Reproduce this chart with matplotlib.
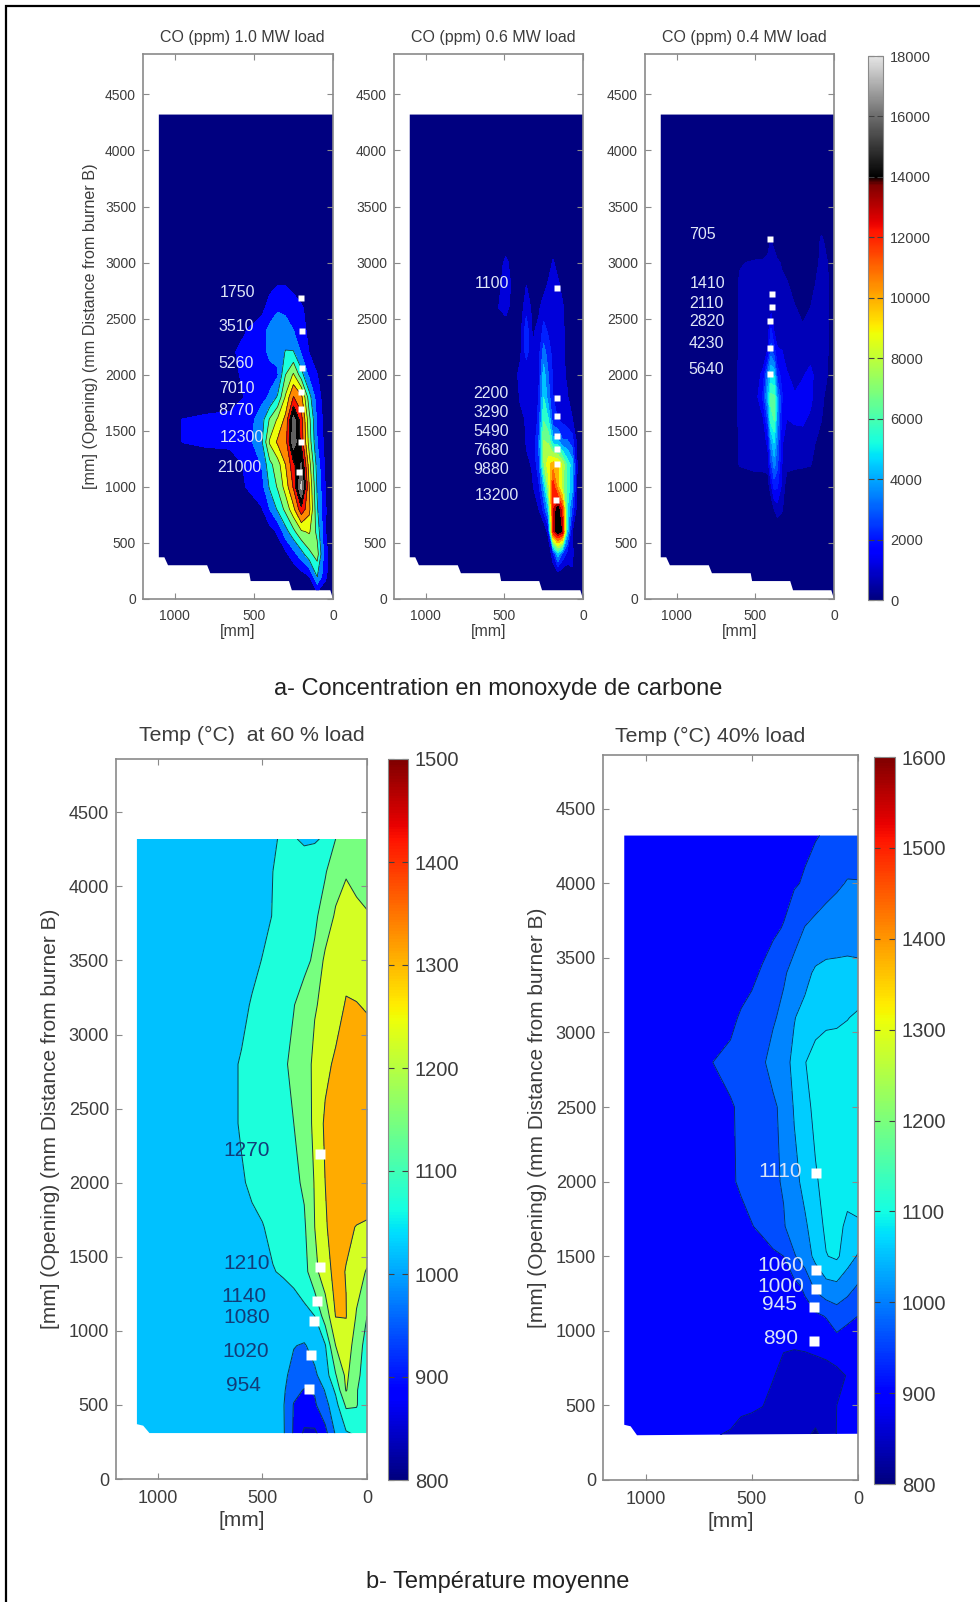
import numpy as np
import matplotlib
matplotlib.use("Agg")
import matplotlib.pyplot as plt
from matplotlib.colors import LinearSegmentedColormap, Normalize
from matplotlib.cm import ScalarMappable
from matplotlib.lines import Line2D
from matplotlib.patches import Polygon

plt.rcParams['font.family'] = ['Liberation Sans', 'DejaVu Sans']

# CO at 1.0 MW, rows go from the top of the opening down
co1_x = [1100, 950, 800, 650, 550, 450, 400, 350, 300, 250, 200, 150, 100, 50, 0]
co1_y = [4320, 3000, 2800, 2600, 2400, 2200, 2000, 1800, 1600, 1400, 1200, 1000, 800, 600, 400, 200, 0]
co1_z = [
    [0, 0, 0, 0, 0, 0, 0, 0, 0, 0, 0, 0, 0, 0, 0],
    [0, 0, 0, 0, 0, 0, 200, 500, 500, 200, 0, 0, 0, 0, 0],
    [0, 0, 0, 0, 0, 700, 1200, 1700, 1700, 1200, 400, 0, 0, 0, 0],
    [0, 0, 0, 0, 300, 1100, 2500, 3300, 3200, 2600, 2000, 1000, 0, 0, 0],
    [0, 0, 0, 900, 1700, 2800, 3900, 4300, 4000, 3500, 2500, 1200, 300, 0, 0],
    [0, 0, 0, 1500, 2200, 3000, 3800, 3900, 5400, 5400, 3300, 1700, 600, 0, 0],
    [0, 0, 0, 1400, 2000, 2500, 3000, 3300, 7000, 9000, 6000, 3000, 1800, 600, 0],
    [0, 0, 0, 800, 1900, 3000, 3700, 5500, 9000, 12400, 11000, 6000, 2500, 900, 0],
    [0, 1800, 2300, 2300, 2400, 4500, 7200, 9000, 11000, 16500, 13000, 7500, 3200, 1000, 0],
    [0, 1800, 2200, 2200, 2500, 5000, 9000, 10800, 11500, 17000, 13500, 8000, 3500, 1200, 0],
    [0, 0, 300, 800, 2000, 3600, 6500, 8000, 10500, 13500, 16000, 9500, 4500, 1500, 0],
    [0, 0, 0, 0, 1800, 2800, 5500, 7200, 9500, 12500, 18000, 10500, 5000, 1800, 0],
    [0, 0, 0, 0, 300, 1600, 3500, 5500, 7500, 10000, 13500, 11000, 5500, 2000, 0],
    [0, 0, 0, 0, 0, 400, 1000, 2000, 4500, 6500, 8500, 9000, 6500, 1900, 200],
    [0, 0, 0, 0, 0, 0, 0, 500, 1300, 2800, 4500, 6500, 7800, 2500, 200],
    [0, 0, 0, 0, 0, 0, 0, 0, 0, 0, 800, 1700, 5300, 2200, 200],
    [0, 0, 0, 0, 0, 0, 0, 0, 0, 0, 0, 0, 0, 0, 0],
]
co1_levels = [-1, 1750, 3510, 5260, 7010, 8770, 10500, 12300, 14000, 15800, 17500, 25000]
co1_pts_x = [200, 197, 197, 200, 200, 205, 213]
co1_pts_y = [2684, 2394, 2060, 1844, 1691, 1400, 1135]
co1_lab = ['1750', '3510', '5260', '7010', '8770', '12300', '21000']
co1_lab_x = [718, 725, 722, 722, 722, 718, 732]
co1_lab_y = [2730, 2430, 2100, 1880, 1685, 1436, 1177]

# CO at 0.6 MW
co2_x = [1100, 600, 530, 490, 450, 400, 360, 320, 280, 250, 220, 190, 160, 130, 100, 70, 40, 0]
co2_y = [4320, 3200, 3000, 2800, 2600, 2400, 2200, 2000, 1800, 1600, 1400, 1200, 1000, 800, 600, 400, 200, 0]
co2_z = [
    [0, 0, 0, 0, 0, 0, 0, 0, 0, 0, 0, 0, 0, 0, 0, 0, 0, 0],
    [0, 0, 0, 0, 0, 0, 0, 0, 0, 0, 0, 0, 0, 0, 0, 0, 0, 0],
    [0, 0, 500, 1500, 500, 0, 0, 0, 0, 0, 300, 1300, 300, 0, 0, 0, 0, 0],
    [0, 0, 900, 1800, 900, 0, 1100, 0, 0, 600, 1300, 1700, 1500, 500, 0, 0, 0, 0],
    [0, 0, 1200, 1600, 600, 300, 1800, 800, 900, 1700, 2000, 2000, 1800, 1300, 400, 0, 0, 0],
    [0, 0, 0, 300, 0, 600, 2800, 900, 1400, 2500, 2000, 1800, 1700, 1300, 700, 0, 0, 0],
    [0, 0, 0, 0, 0, 800, 2600, 1200, 1800, 3800, 2700, 1800, 1700, 1300, 800, 0, 0, 0],
    [0, 0, 0, 0, 200, 1500, 1400, 1100, 2000, 4900, 3300, 2000, 1800, 1400, 900, 200, 0, 0],
    [0, 0, 0, 0, 0, 1200, 1300, 1200, 2300, 5500, 3800, 2200, 1900, 1500, 1200, 600, 0, 0],
    [0, 0, 0, 0, 0, 800, 1200, 1200, 2500, 6500, 5500, 2600, 2200, 1900, 1500, 1200, 300, 0],
    [0, 0, 0, 0, 0, 0, 1200, 1200, 3500, 7800, 7500, 5000, 4800, 3500, 3500, 2800, 1000, 0],
    [0, 0, 0, 0, 0, 0, 900, 1200, 3000, 7500, 9500, 10500, 10000, 8500, 6200, 5000, 1200, 0],
    [0, 0, 0, 0, 0, 0, 0, 1000, 2000, 4500, 8000, 12800, 10500, 8000, 6200, 4800, 1100, 0],
    [0, 0, 0, 0, 0, 0, 0, 0, 1100, 2500, 5000, 13000, 14600, 12500, 5500, 3200, 800, 0],
    [0, 0, 0, 0, 0, 0, 0, 0, 0, 0, 1500, 13000, 14800, 13800, 5000, 1200, 0, 0],
    [0, 0, 0, 0, 0, 0, 0, 0, 0, 0, 0, 1800, 5000, 3000, 1800, 1500, 0, 0],
    [0, 0, 0, 0, 0, 0, 0, 0, 0, 0, 0, 0, 0, 0, 200, 800, 0, 0],
    [0, 0, 0, 0, 0, 0, 0, 0, 0, 0, 0, 0, 0, 0, 0, 0, 0, 0],
]
co2_levels = [-1, 1100, 2200, 3290, 4390, 5490, 6590, 7680, 8780, 9880, 11000, 12100, 13200, 14000, 15400, 16500]
co2_pts_x = [168, 168, 168, 168, 168, 168, 172]
co2_pts_y = [2775, 1790, 1628, 1450, 1340, 1203, 880]
co2_lab = ['1100', '2200', '3290', '5490', '7680', '9880', '13200']
co2_lab_x = [690, 695, 695, 695, 695, 695, 690]
co2_lab_y = [2816, 1830, 1666, 1491, 1322, 1158, 921]

# CO at 0.4 MW
co3_x = [1100, 640, 600, 500, 450, 420, 400, 380, 360, 330, 300, 250, 200, 150, 120, 80, 40, 0]
co3_y = [4320, 3400, 3200, 3000, 2800, 2600, 2400, 2200, 2000, 1800, 1600, 1400, 1200, 1000, 800, 600, 0]
co3_z = [
    [0, 0, 0, 0, 0, 0, 0, 0, 0, 0, 0, 0, 0, 0, 0, 0, 0, 0],
    [0, 0, 0, 0, 0, 0, 0, 0, 0, 0, 0, 0, 0, 0, 0, 0, 0, 0],
    [0, 0, 0, 0, 0, 400, 750, 500, 0, 0, 0, 0, 0, 0, 0, 900, 300, 0],
    [0, 0, 650, 800, 800, 900, 1000, 950, 850, 600, 400, 0, 0, 0, 300, 1000, 700, 0],
    [0, 300, 800, 900, 900, 1000, 1000, 1000, 1000, 900, 800, 400, 300, 300, 700, 1000, 800, 0],
    [0, 300, 800, 900, 900, 950, 1100, 1000, 950, 900, 850, 750, 500, 700, 900, 1000, 800, 0],
    [0, 300, 800, 900, 900, 1000, 2200, 1300, 1100, 1000, 1000, 900, 800, 900, 950, 950, 800, 0],
    [0, 300, 800, 900, 950, 1500, 3200, 2500, 1500, 1450, 1000, 950, 900, 1000, 1000, 900, 750, 0],
    [0, 300, 900, 1000, 1600, 3800, 5000, 4800, 2500, 1800, 1500, 1100, 1300, 1700, 1200, 900, 700, 0],
    [0, 300, 900, 1000, 2300, 4500, 6600, 6500, 4000, 2200, 1500, 1500, 1800, 1700, 1100, 850, 500, 0],
    [0, 300, 850, 950, 1300, 3000, 6000, 6400, 4000, 1800, 1400, 1500, 1600, 1200, 950, 720, 300, 0],
    [0, 300, 800, 900, 1000, 1600, 4000, 5000, 3500, 1500, 1000, 1100, 950, 850, 720, 500, 0, 0],
    [0, 200, 750, 900, 900, 1000, 2700, 3800, 3000, 1400, 900, 850, 800, 750, 500, 0, 0, 0],
    [0, 0, 200, 300, 300, 300, 1200, 2300, 2200, 1200, 300, 200, 200, 100, 0, 0, 0, 0],
    [0, 0, 0, 0, 0, 0, 0, 700, 1100, 800, 0, 0, 0, 0, 0, 0, 0, 0],
    [0, 0, 0, 0, 0, 0, 0, 0, 0, 0, 0, 0, 0, 0, 0, 0, 0, 0],
    [0, 0, 0, 0, 0, 0, 0, 0, 0, 0, 0, 0, 0, 0, 0, 0, 0, 0],
]
co3_levels = [-1, 705, 1410, 2110, 2820, 3530, 4230, 4940, 5640, 6350, 7050]
co3_pts_x = [404, 393, 393, 404, 404, 404]
co3_pts_y = [3207, 2720, 2600, 2475, 2242, 2009]
co3_lab = ['705', '1410', '2110', '2820', '4230', '5640']
co3_lab_x = [922, 915, 918, 922, 922, 922]
co3_lab_y = [3249, 2816, 2637, 2475, 2280, 2048]

# lower edge of the measured area, same for the three CO panels
co_edge_x = [1100, 1100, 1065, 1042, 795, 775, 529, 520, 278, 260, 17, 0, 0]
co_edge_y = [4320, 372, 372, 301, 301, 230, 230, 160, 160, 78, 78, 0, 4320]

# temperature at 60 % load
t60_x = [1100, 650, 600, 550, 500, 450, 400, 350, 300, 250, 200, 150, 100, 50, 0]
t60_y = [4320, 4100, 3800, 3500, 3200, 2800, 2400, 2000, 1700, 1400, 1100, 900, 700, 600, 500, 300]
t60_z = [
    [1060, 1060, 1060, 1060, 1060, 1076, 1085, 1082, 1076, 1076, 1085, 1140, 1165, 1170, 1170],
    [1060, 1060, 1060, 1060, 1065, 1080, 1090, 1095, 1095, 1105, 1135, 1175, 1205, 1190, 1180],
    [1055, 1055, 1055, 1060, 1065, 1082, 1095, 1105, 1115, 1130, 1165, 1220, 1235, 1225, 1215],
    [1050, 1052, 1055, 1065, 1082, 1095, 1105, 1115, 1125, 1150, 1225, 1245, 1250, 1245, 1240],
    [1055, 1058, 1065, 1085, 1095, 1105, 1115, 1138, 1165, 1205, 1225, 1245, 1275, 1272, 1265],
    [1055, 1070, 1085, 1095, 1105, 1115, 1130, 1155, 1180, 1225, 1255, 1280, 1295, 1300, 1300],
    [1060, 1070, 1085, 1095, 1105, 1112, 1125, 1140, 1175, 1225, 1280, 1300, 1305, 1310, 1310],
    [1060, 1065, 1075, 1088, 1095, 1105, 1115, 1125, 1150, 1215, 1270, 1300, 1310, 1310, 1310],
    [1050, 1055, 1060, 1070, 1078, 1090, 1100, 1112, 1130, 1210, 1265, 1290, 1280, 1268, 1262],
    [1040, 1042, 1045, 1050, 1060, 1078, 1085, 1095, 1115, 1190, 1250, 1285, 1268, 1235, 1205],
    [1040, 1040, 1040, 1040, 1040, 1045, 1050, 1055, 1065, 1080, 1170, 1272, 1272, 1205, 1140],
    [1040, 1040, 1040, 1040, 1040, 1040, 1035, 1022, 1015, 1040, 1075, 1210, 1245, 1180, 1110],
    [1040, 1040, 1040, 1040, 1040, 1040, 1030, 1005, 990, 1010, 1050, 1135, 1225, 1160, 1100],
    [1040, 1040, 1040, 1040, 1040, 1040, 1030, 975, 950, 960, 1025, 1090, 1215, 1145, 1095],
    [1040, 1040, 1040, 1040, 1040, 1035, 1025, 950, 940, 945, 1000, 1060, 1150, 1145, 1085],
    [1040, 1040, 1040, 1040, 1040, 1035, 1028, 945, 875, 875, 930, 1025, 1070, 1085, 1085],
]
t60_levels = [830, 890, 954, 1020, 1080, 1140, 1210, 1270, 1400]
t60_band = [850, 885, 955, 1020, 1070, 1145, 1225, 1310]
t60_pts_x = [224, 227, 237, 251, 269, 278]
t60_pts_y = [2197, 1428, 1203, 1066, 834, 610]
t60_lab = ['1270', '1210', '1140', '1080', '1020', '954']
t60_lab_x = [688, 688, 695, 688, 690, 672]
t60_lab_y = [2214, 1455, 1231, 1093, 862, 628]
t60_edge_x = [1100, 1100, 1070, 1040, 0, 0]
t60_edge_y = [4320, 370, 360, 310, 310, 4320]

# temperature at 40 % load
t40_x = [1100, 700, 600, 550, 500, 450, 400, 350, 300, 250, 200, 150, 100, 50, 0]
t40_y = [4320, 4000, 3700, 3400, 3100, 2800, 2500, 2000, 1700, 1500, 1300, 1100, 900, 700, 500, 300]
t40_z = [
    [910, 910, 912, 914, 915, 916, 918, 920, 930, 935, 942, 950, 960, 970, 975],
    [910, 912, 914, 915, 916, 918, 920, 925, 940, 950, 965, 980, 992, 1003, 1002],
    [910, 912, 915, 918, 920, 925, 935, 948, 975, 1002, 1015, 1025, 1030, 1035, 1040],
    [910, 915, 920, 925, 935, 950, 970, 992, 1020, 1045, 1068, 1075, 1075, 1075, 1070],
    [915, 925, 935, 950, 960, 975, 993, 1015, 1058, 1075, 1090, 1100, 1102, 1108, 1118],
    [915, 943, 955, 965, 980, 992, 1020, 1045, 1070, 1108, 1130, 1135, 1135, 1140, 1140],
    [915, 925, 942, 950, 960, 975, 990, 1015, 1065, 1095, 1122, 1135, 1140, 1140, 1140],
    [915, 925, 935, 955, 965, 975, 990, 1005, 1045, 1075, 1105, 1125, 1130, 1130, 1130],
    [910, 915, 920, 925, 943, 955, 975, 995, 1030, 1052, 1085, 1120, 1125, 1100, 1105],
    [910, 910, 915, 915, 920, 925, 935, 945, 995, 1030, 1075, 1108, 1118, 1085, 1055],
    [905, 905, 908, 908, 910, 912, 915, 920, 930, 955, 1015, 1045, 1050, 1025, 995],
    [900, 900, 902, 902, 905, 908, 910, 912, 918, 925, 935, 948, 970, 955, 945],
    [900, 900, 900, 900, 900, 900, 896, 893, 893, 895, 900, 908, 925, 920, 915],
    [900, 900, 900, 900, 898, 895, 892, 880, 870, 870, 870, 870, 875, 893, 900],
    [898, 898, 898, 896, 895, 891, 880, 870, 865, 865, 865, 870, 890, 895, 898],
    [895, 892, 888, 880, 875, 870, 868, 865, 860, 845, 825, 855, 892, 895, 895],
]
t40_levels = [800, 835, 890, 945, 1000, 1060, 1110, 1170]
t40_band = [810, 850, 900, 960, 1005, 1060, 1085]
t40_pts_x = [199, 199, 199, 208, 208]
t40_pts_y = [2057, 1411, 1281, 1162, 933]
t40_lab = ['1110', '1060', '1000', '945', '890']
t40_lab_x = [469, 472, 472, 453, 447]
t40_lab_y = [2067, 1435, 1298, 1179, 950]
t40_edge_x = [1100, 1100, 1070, 1040, 600, 0, 0]
t40_edge_y = [4320, 370, 360, 300, 305, 310, 4320]

y_ticks = [0, 500, 1000, 1500, 2000, 2500, 3000, 3500, 4000, 4500]
x_ticks = [1000, 500, 0]
co_bar_ticks = [0, 2000, 4000, 6000, 8000, 10000, 12000, 14000, 16000, 18000]
t60_bar_ticks = [800, 900, 1000, 1100, 1200, 1300, 1400, 1500]
t40_bar_ticks = [800, 900, 1000, 1100, 1200, 1300, 1400, 1500, 1600]

W, H = 980, 1602
GREY = '#8a8a8a'
TXT = '#3c3c3c'

jet = plt.get_cmap('jet')
co_stops = [(i / 100 * 13750 / 18000, jet(i / 100)) for i in range(101)]
co_stops += [(14000 / 18000, (0, 0, 0, 1)), (16000 / 18000, (0.42, 0.42, 0.42, 1)), (1, (0.9, 0.9, 0.9, 1))]
co_cmap = LinearSegmentedColormap.from_list('co_jet', co_stops, N=512)


def add_ax(fig, left, right, top, bottom):
    return fig.add_axes([left / W, 1 - bottom / H, (right - left) / W, (bottom - top) / H])


def draw_panel(fig, box, x, y, z, levels, band, cmap, norm, edge_x, edge_y, fs, pad):
    ax = add_ax(fig, *box)
    colors = [cmap(norm(v)) for v in band]
    cs = ax.contourf(x, y, np.array(z, dtype=float), levels=levels, colors=colors)
    clip = Polygon(np.column_stack([edge_x, edge_y]), transform=ax.transData, fc='none', ec='none')
    ax.add_patch(clip)
    cs.set_clip_path(clip)
    ax.set_xlim(1200, 0)
    ax.set_ylim(0, 4860)
    ax.set_xticks(x_ticks)
    ax.set_yticks(y_ticks)
    ax.tick_params(direction='in', top=True, right=True, length=4, width=0.8,
                   color=GREY, labelsize=fs, labelcolor=TXT)
    ax.tick_params(axis='x', pad=pad)
    ax.tick_params(axis='y', pad=5)
    for s in ax.spines.values():
        s.set_color(GREY)
        s.set_linewidth(1.2)
    ax.set_facecolor('white')
    return ax, cs, clip


def add_points(ax, px, py, lab, lx, ly, col, fs, ms):
    ax.plot(px, py, 's', color='white', ms=ms, mec='none', clip_on=False, zorder=5)
    for t, a, b in zip(lab, lx, ly):
        ax.text(a, b, t, color=col, fontsize=fs, ha='left', va='center', zorder=6)


def add_bar(fig, box, cmap, norm, ticks, fs):
    cax = add_ax(fig, *box)
    cb = fig.colorbar(ScalarMappable(norm=norm, cmap=cmap), cax=cax)
    cb.set_ticks(ticks)
    cb.set_ticklabels([str(t) for t in ticks])
    cax.tick_params(direction='in', left=True, right=True, length=4, width=0.8,
                    color='#404040', labelsize=fs, labelcolor=TXT, pad=5)
    cb.outline.set_edgecolor(GREY)
    cb.outline.set_linewidth(0.8)


def main():
    fig = plt.figure(figsize=(W / 100, H / 100), dpi=100, facecolor='white')
    # only the left and top rules of the frame are there
    fig.add_artist(Line2D([6 / W, 6 / W, 1], [0, 1 - 6 / H, 1 - 6 / H], color='black', lw=1.6,
                          transform=fig.transFigure, solid_joinstyle='miter'))

    co_norm = Normalize(0, 18000)
    label_co = '#dfe6f7'

    # top row
    ax, cs, clip = draw_panel(fig, (143, 333, 54, 599), co1_x, co1_y[::-1], co1_z[::-1], co1_levels,
                              [0] + co1_levels[1:-1], co_cmap, co_norm, co_edge_x, co_edge_y, 10, 7)
    lines = ax.contour(co1_x, co1_y[::-1], np.array(co1_z[::-1], dtype=float), levels=co1_levels[3:9],
                       colors='#1a1a1a', linewidths=0.5)
    lines.set_clip_path(clip)
    add_points(ax, co1_pts_x, co1_pts_y, co1_lab, co1_lab_x, co1_lab_y, label_co, 11.5, 5)
    ax.text(0.525, 1.016, 'CO (ppm) 1.0 MW load', transform=ax.transAxes, ha='center', va='bottom',
            fontsize=11.5, color=TXT)
    ax.set_xlabel('[mm]', fontsize=11.5, color=TXT, labelpad=1)
    ax.set_ylabel('[mm] (Opening) (mm Distance from burner B)', fontsize=11.6, color=TXT, labelpad=5)

    ax, cs, clip = draw_panel(fig, (394, 583, 54, 599), co2_x, co2_y[::-1], co2_z[::-1], co2_levels,
                              [0] + co2_levels[1:-1], co_cmap, co_norm, co_edge_x, co_edge_y, 10, 7)
    add_points(ax, co2_pts_x, co2_pts_y, co2_lab, co2_lab_x, co2_lab_y, label_co, 11.5, 5)
    ax.text(0.525, 1.016, 'CO (ppm) 0.6 MW load', transform=ax.transAxes, ha='center', va='bottom',
            fontsize=11.5, color=TXT)
    ax.set_xlabel('[mm]', fontsize=11.5, color=TXT, labelpad=1)

    ax, cs, clip = draw_panel(fig, (645, 834, 54, 599), co3_x, co3_y[::-1], co3_z[::-1], co3_levels,
                              [0] + co3_levels[1:-1], co_cmap, co_norm, co_edge_x, co_edge_y, 10, 7)
    add_points(ax, co3_pts_x, co3_pts_y, co3_lab, co3_lab_x, co3_lab_y, label_co, 11.5, 5)
    ax.text(0.525, 1.016, 'CO (ppm) 0.4 MW load', transform=ax.transAxes, ha='center', va='bottom',
            fontsize=11.5, color=TXT)
    ax.set_xlabel('[mm]', fontsize=11.5, color=TXT, labelpad=1)

    add_bar(fig, (868, 883, 56, 600), co_cmap, co_norm, co_bar_ticks, 10.5)

    # bottom row
    t60_norm = Normalize(800, 1500)
    ax, cs, clip = draw_panel(fig, (116, 367, 759, 1479), t60_x, t60_y[::-1], t60_z[::-1], t60_levels,
                              t60_band, jet, t60_norm, t60_edge_x, t60_edge_y, 13, 8)
    lines = ax.contour(t60_x, t60_y[::-1], np.array(t60_z[::-1], dtype=float), levels=t60_levels[1:-1],
                       colors='#0b3b4a', linewidths=0.7)
    lines.set_clip_path(clip)
    add_points(ax, t60_pts_x, t60_pts_y, t60_lab, t60_lab_x, t60_lab_y, '#123c78', 15, 7.5)
    ax.text(0.54, 1.019, 'Temp (°C)  at 60 % load', transform=ax.transAxes, ha='center', va='bottom',
            fontsize=15.3, color=TXT)
    ax.set_xlabel('[mm]', fontsize=15, color=TXT, labelpad=3)
    ax.set_ylabel('[mm] (Opening) (mm Distance from burner B)', fontsize=15, color=TXT, labelpad=6)
    add_bar(fig, (388, 408, 759, 1480), jet, t60_norm, t60_bar_ticks, 14.5)

    t40_norm = Normalize(800, 1600)
    ax, cs, clip = draw_panel(fig, (603, 858, 755, 1480), t40_x, t40_y[::-1], t40_z[::-1], t40_levels,
                              t40_band, jet, t40_norm, t40_edge_x, t40_edge_y, 13, 8)
    lines = ax.contour(t40_x, t40_y[::-1], np.array(t40_z[::-1], dtype=float), levels=t40_levels[1:-1],
                       colors='#06285a', linewidths=0.6)
    lines.set_clip_path(clip)
    add_points(ax, t40_pts_x, t40_pts_y, t40_lab, t40_lab_x, t40_lab_y, '#d8e4f8', 15, 7.5)
    ax.text(0.42, 1.012, 'Temp (°C) 40% load', transform=ax.transAxes, ha='center', va='bottom',
            fontsize=15.3, color=TXT)
    ax.set_xlabel('[mm]', fontsize=15, color=TXT, labelpad=3)
    ax.set_ylabel('[mm] (Opening) (mm Distance from burner B)', fontsize=15, color=TXT, labelpad=6)
    add_bar(fig, (874, 895, 757, 1484), jet, t40_norm, t40_bar_ticks, 14.5)

    # captions
    fig.text(498 / W, 1 - 689 / H, 'a- Concentration en monoxyde de carbone', ha='center', va='center',
             fontsize=17, color='#222222')
    fig.text(498 / W, 1 - 1582 / H, 'b- Température moyenne', ha='center', va='center',
             fontsize=17, color='#222222')

    fig.savefig('out.png', dpi=100)


if __name__ == "__main__":
    main()
